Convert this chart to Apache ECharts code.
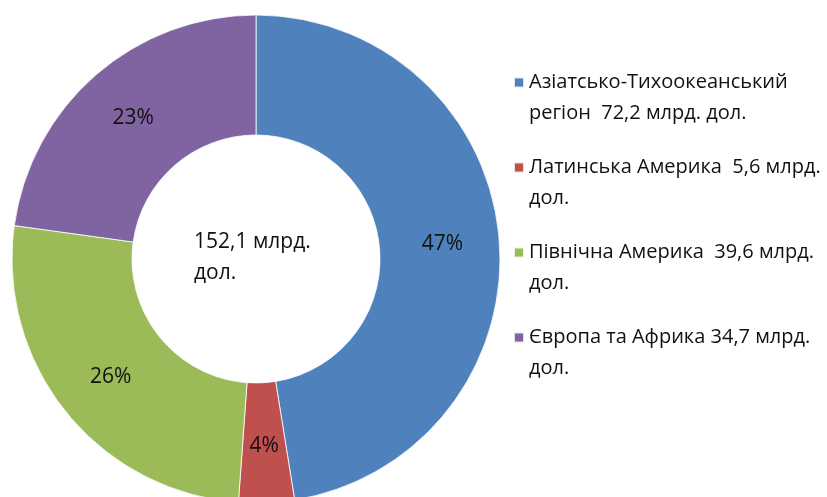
<!DOCTYPE html>
<html>
<head>
<meta charset="utf-8">
<title>Регіони</title>
<script src="https://cdn.jsdelivr.net/npm/echarts@6/dist/echarts.min.js"></script>
<style>
  html, body { margin: 0; padding: 0; background: #fff; }
  #main { width: 827px; height: 497px; }
</style>
</head>
<body>
<div id="main"></div>
<script>
// дані з діаграми
var regions = ["Азіатсько-Тихоокеанський регіон", "Латинська Америка", "Північна Америка", "Європа та Африка"];
var values = [72.2, 5.6, 39.6, 34.7];
var legendText = ["Азіатсько-Тихоокеанський\nрегіон  72,2 млрд. дол.", "Латинська Америка  5,6 млрд.\nдол.", "Північна Америка  39,6 млрд.\nдол.", "Європа та Африка 34,7 млрд.\nдол."];
var colors = ["#4F81BD", "#C0504D", "#9BBB59", "#8064A2"];
var totalText = "152,1 млрд.\nдол.";

var font = "'Open Sans', 'Noto Sans', sans-serif";

var chart = echarts.init(document.getElementById("main"));
chart.setOption({
  animation: false,
  color: colors,
  legend: {
    orient: "vertical",
    left: 508,
    top: 31,
    itemWidth: 10,
    itemHeight: 10,
    itemGap: -8,
    icon: "rect",
    data: regions,
    // порожній перший рядок, щоб квадратик стояв навпроти першого рядка тексту
    formatter: function (name) {
      return " \n" + legendText[regions.indexOf(name)];
    },
    textStyle: {
      fontFamily: font,
      fontSize: 20,
      color: "#111",
      lineHeight: 31
    }
  },
  graphic: [
    {
      type: "text",
      left: 194,
      top: 227,
      style: {
        text: totalText,
        font: "21px " + font,
        fill: "#111",
        lineHeight: 31
      }
    }
  ],
  series: [
    {
      type: "pie",
      center: [256, 259],
      radius: [124, 244],
      startAngle: 90,
      clockwise: true,
      itemStyle: { borderColor: "rgba(255,255,255,0.8)", borderWidth: 1 },
      label: {
        position: "inside",
        fontFamily: font,
        fontSize: 21,
        color: "#111",
        formatter: function (p) { return Math.round(p.percent) + "%"; }
      },
      emphasis: { disabled: true },
      data: regions.map(function (r, i) { return { name: r, value: values[i] }; })
    }
  ]
});
</script>
</body>
</html>
